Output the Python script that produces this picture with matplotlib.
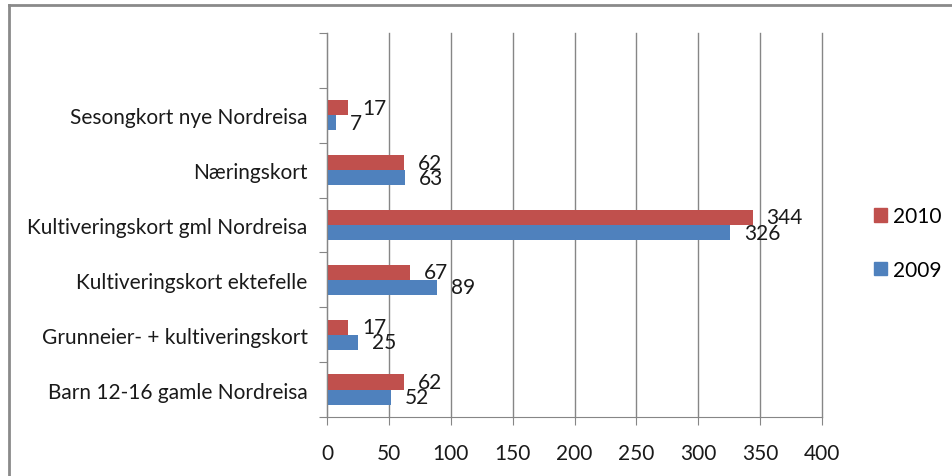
import matplotlib
matplotlib.use("Agg")
import matplotlib.pyplot as plt
from matplotlib.patches import Rectangle
import numpy as np

plt.rcParams['font.family'] = ['Lato', 'DejaVu Sans']

# categories top to bottom, with an empty slot on top (as in the original)
categories = ["", "Sesongkort nye Nordreisa", "Næringskort",
              "Kultiveringskort gml Nordreisa", "Kultiveringskort ektefelle",
              "Grunneier- + kultiveringskort", "Barn 12-16 gamle Nordreisa"]
vals_2010 = [None, 17, 62, 344, 67, 17, 62]
vals_2009 = [None, 7, 63, 326, 89, 25, 52]
xticks = [0, 50, 100, 150, 200, 250, 300, 350, 400]

RED = "#C0504D"
BLUE = "#4F81BD"
GRAY = "#868686"
TXT = "#1a1a1a"
FS = 15

fig = plt.figure(figsize=(9.52, 4.77), dpi=100)
ax = fig.add_axes([327/952, 1 - 418/477, (822-327)/952, (418-34)/477])

n = len(categories)
y = np.arange(n)[::-1] + 0.5  # top slot highest
h = 0.275

for i in range(n):
    if vals_2010[i] is None:
        continue
    ax.barh(y[i] + h/2, vals_2010[i], height=h, color=RED)
    ax.barh(y[i] - h/2, vals_2009[i], height=h, color=BLUE)
    ax.annotate(str(vals_2010[i]), (vals_2010[i], y[i] + h/2), xytext=(10, 0),
                textcoords="offset points", va="center", ha="left", fontsize=FS,
                color=TXT)
    ax.annotate(str(vals_2009[i]), (vals_2009[i], y[i] - h/2), xytext=(10, 0),
                textcoords="offset points", va="center", ha="left", fontsize=FS,
                color=TXT)

ax.set_xlim(0, 400)
ax.set_ylim(0, n)
ax.set_xticks(xticks)
ax.set_xticklabels([str(t) for t in xticks], fontsize=FS, color=TXT)

# category labels centred on slots, ticks at slot boundaries
ax.set_yticks(np.arange(n + 1))
ax.set_yticklabels([])
ax.set_yticks(y, minor=True)
ax.set_yticklabels(categories, minor=True, fontsize=FS, color=TXT)
ax.tick_params(axis="y", which="minor", length=0, pad=14)
ax.tick_params(axis="y", which="major", length=6, color=GRAY, direction="out")
ax.tick_params(axis="x", length=6, color=GRAY, direction="out", pad=13)

ax.grid(axis="x", color=GRAY, linewidth=1)
for gl in ax.get_xgridlines():
    gl.set_clip_on(False)
ax.set_axisbelow(True)
for s in ["top", "right"]:
    ax.spines[s].set_visible(False)
for s in ["left", "bottom"]:
    ax.spines[s].set_color(GRAY)

# legend
handles = [Rectangle((0, 0), 1, 1, color=RED), Rectangle((0, 0), 1, 1, color=BLUE)]
fig.legend(handles, ["2010", "2009"], loc="center left",
           bbox_to_anchor=(874/952, 1 - 244/477), frameon=False, fontsize=FS,
           borderpad=0, borderaxespad=0,
           handlelength=0.6, handleheight=0.6, handletextpad=0.3,
           labelspacing=1.6)

# outer chart frame
fig.add_artist(plt.Line2D([8.5/952, 8.5/952], [0, 1 - 6/477], color="#8a8a8a",
                          linewidth=2, transform=fig.transFigure))
fig.add_artist(plt.Line2D([8.5/952, 1], [1 - 6/477, 1 - 6/477], color="#8a8a8a",
                          linewidth=2, transform=fig.transFigure))

fig.savefig("out.png", dpi=100)
